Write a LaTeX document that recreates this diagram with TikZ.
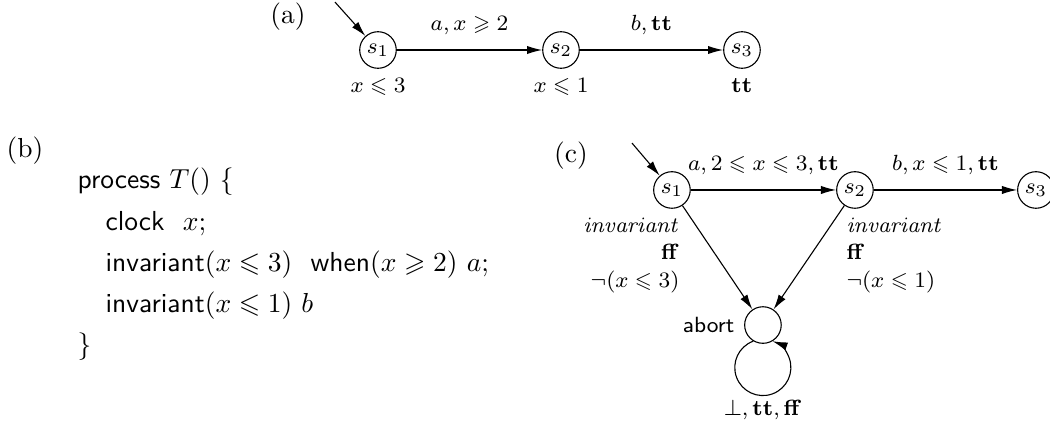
\documentclass[tikz,border=0pt]{standalone}
\usepackage{amsmath,amssymb}
\usetikzlibrary{arrows.meta,positioning}
\tikzset{
  locstate/.style={circle, draw, minimum size=13.3pt, inner sep=0pt, font=\footnotesize},
  lbl/.style={font=\footnotesize},
  trans/.style={-{Latex[length=5.5pt,width=3pt]}},
  codeline/.style={anchor=base west, font=\sffamily, inner sep=0pt}
}

\begin{document}
\begin{tikzpicture}
  \useasboundingbox (0,0) rectangle (13.42,5.47);

  % (a) timed automaton
  \node (tagA) at (3.68,5.26) {(a)};
  \node[locstate, label={[lbl]below:$x\leqslant 3$}] (s1a) at (4.831,4.831) {$s_1$};
  \node[locstate, label={[lbl]below:$x\leqslant 1$}] (s2a) at (7.170,4.831) {$s_2$};
  \node[locstate, label={[lbl]below:$\mathbf{tt}$}] (s3a) at (9.483,4.831) {$s_3$};
  \coordinate (inita) at (4.281,5.444);
  \draw[trans] (inita) -- (s1a);
  \draw[trans] (s1a) -- node[lbl, above=2pt] {$a, x\geqslant 2$} (s2a);
  \draw[trans] (s2a) -- node[lbl, above=2pt] {$b, \mathbf{tt}$} (s3a);

  % (b) process text
  \node (tagB) at (0.32,3.54) {(b)};
  \node[codeline] (line1) at (0.984,3.067) {process $T()$ $\{$};
  \node[codeline] (line2) at (1.342,2.530) {clock\ \ $x;$};
  \node[codeline] (line3) at (1.342,1.994) {invariant$(x\leqslant 3)$\ \ when$(x\geqslant 2)$ $a;$};
  \node[codeline] (line4) at (1.342,1.470) {invariant$(x\leqslant 1)$ $b$};
  \node[codeline] (line5) at (0.984,0.946) {$\}$};

  % (c) automaton with abort
  \node (tagC) at (7.297,3.476) {(c)};
  \node[locstate] (s1c) at (8.588,3.042) {$s_1$};
  \node[locstate] (s2c) at (10.927,3.042) {$s_2$};
  \node[locstate] (s3c) at (13.240,3.042) {$s_3$};
  \node[locstate, label={[lbl, font=\footnotesize\sffamily]left:abort}] (abort) at (9.751,1.316) {};
  \coordinate (initc) at (8.077,3.642);
  \draw[trans] (initc) -- (s1c);
  \draw[trans] (s1c) -- node[lbl, above=2pt] {$a, 2\leqslant x\leqslant 3, \mathbf{tt}$} (s2c);
  \draw[trans] (s2c) -- node[lbl, above=2pt] {$b, x\leqslant 1, \mathbf{tt}$} (s3c);
  \draw[trans] (s1c) -- (abort);
  \draw[trans] (s2c) -- (abort);
  \node[lbl, anchor=east, align=right, inner sep=0pt] (inv1) at (8.690,2.205) {$\mathit{invariant}$\\[0.6pt]$\mathbf{ff}$\\[0.6pt]$\neg(x\leqslant 3)$};
  \node[lbl, anchor=west, align=left, inner sep=0pt] (inv2) at (10.812,2.205) {$\mathit{invariant}$\\[0.6pt]$\mathbf{ff}$\\[0.6pt]$\neg(x\leqslant 1)$};
  % self loop on abort
  \draw[trans] (abort.239) arc[start angle=110, end angle=430, radius=10.2pt];
  \node[lbl] (loopl) at (9.751,0.230) {$\bot, \mathbf{tt}, \mathbf{ff}$};
\end{tikzpicture}
\end{document}
